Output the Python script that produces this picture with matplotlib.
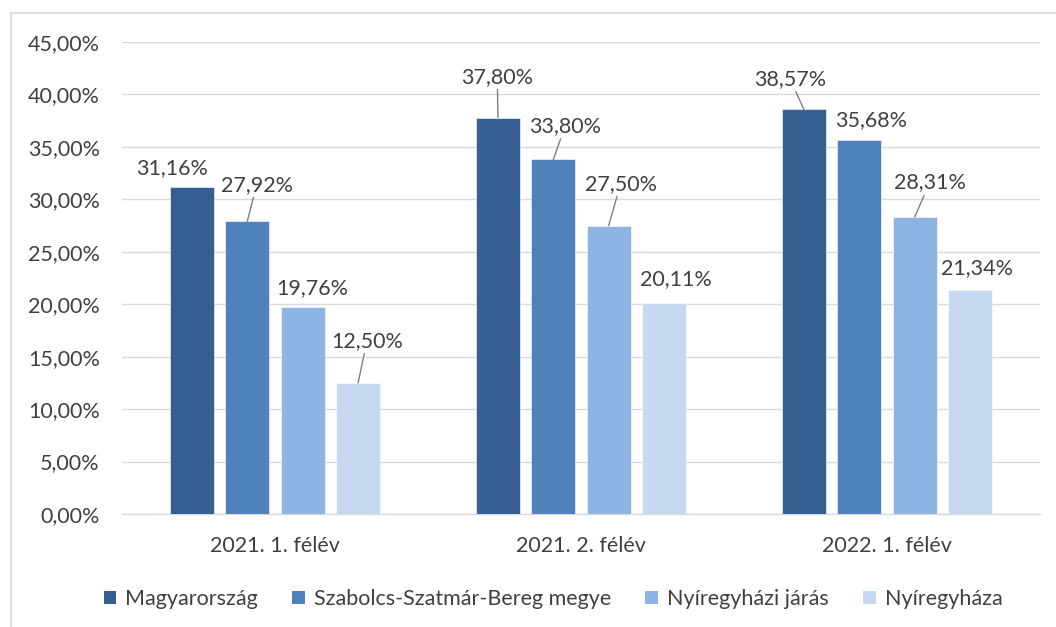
import matplotlib
matplotlib.use("Agg")
import matplotlib.pyplot as plt
from matplotlib.lines import Line2D
from matplotlib.patches import Patch
import numpy as np

plt.rcParams['font.family'] = ['Lato', 'DejaVu Sans']

categories = ["2021. 1. félév", "2021. 2. félév", "2022. 1. félév"]
series_names = ["Magyarország", "Szabolcs-Szatmár-Bereg megye", "Nyíregyházi járás", "Nyíregyháza"]
magyarorszag = [31.16, 37.80, 38.57]
szabolcs = [27.92, 33.80, 35.68]
nyir_jaras = [19.76, 27.50, 28.31]
nyiregyhaza = [12.50, 20.11, 21.34]
series = [magyarorszag, szabolcs, nyir_jaras, nyiregyhaza]
colors = ["#365F91", "#4F81BD", "#8EB4E3", "#C6D9F1"]

# label placement (offset from bar centre in category units, label y in %) and leader flags
label_dx = [[-0.066, 0.031, 0.033, 0.029],
            [-0.002, 0.039, 0.039, 0.039],
            [-0.046, 0.039, 0.049, 0.023]]
label_y = [[33.0, 31.4, 21.5, 16.5],
           [41.7, 37.0, 31.5, 22.4],
           [41.5, 37.6, 31.6, 23.4]]
leader = [[False, True, False, True],
          [True, True, True, False],
          [True, False, True, False]]

W, H = 1056, 627
fig = plt.figure(figsize=(W / 100, H / 100), dpi=100)
ax = fig.add_axes([122 / W, 1 - 514 / H, (1040 - 122) / W, (514 - 42) / H])

text_color = "#404040"
grid_color = "#D9D9D9"
fs = 15.5

x = np.arange(len(categories))
step = 0.181
width = 0.144
for i, (vals, col) in enumerate(zip(series, colors)):
    xs = x + (i - 1.5) * step
    ax.bar(xs, vals, width=width, color=col, edgecolor="white", linewidth=0.4, zorder=3)
    for g in range(len(categories)):
        lx = xs[g] + label_dx[g][i]
        ly = label_y[g][i]
        txt = f"{vals[g]:.2f}%".replace(".", ",")
        if leader[g][i]:
            ax.annotate(txt, xy=(xs[g], vals[g]), xytext=(lx, ly), textcoords="data",
                        ha="center", va="center", fontsize=fs, color=text_color,
                        arrowprops=dict(arrowstyle="-", color="#7F7F7F", lw=1.0,
                                        shrinkA=0, shrinkB=0), zorder=4)
        else:
            ax.text(lx, ly, txt, ha="center", va="center", fontsize=fs, color=text_color, zorder=4)

ax.set_xlim(-0.5, 2.5)
ax.set_ylim(0, 45)
ax.set_yticks(np.arange(0, 46, 5))
ax.set_yticklabels([f"{v:.2f}%".replace(".", ",") for v in np.arange(0, 46, 5)])
ax.set_xticks(x)
ax.set_xticklabels(categories)
ax.tick_params(axis="both", length=0, labelsize=fs, labelcolor=text_color)
ax.tick_params(axis="y", pad=16)
ax.tick_params(axis="x", pad=16)
ax.yaxis.grid(True, color=grid_color, linewidth=1.0, zorder=0)
ax.set_axisbelow(True)
for s in ["left", "right", "top"]:
    ax.spines[s].set_visible(False)
ax.spines["bottom"].set_color(grid_color)
ax.spines["bottom"].set_linewidth(1.0)

handles = [Patch(facecolor=c, edgecolor="none") for c in colors]
fig.legend(handles, series_names, loc="center", bbox_to_anchor=(553 / W, 1 - 599 / H),
           ncol=4, frameon=False, fontsize=fs, labelcolor=text_color,
           handlelength=0.6, handleheight=0.6, handletextpad=0.4, columnspacing=1.6)

# chart frame (top and left edges visible)
fig.add_artist(Line2D([10.5 / W, 1.0], [1 - 13 / H, 1 - 13 / H], color=grid_color, lw=1.2,
                      transform=fig.transFigure))
fig.add_artist(Line2D([10.5 / W, 10.5 / W], [0, 1 - 13 / H], color=grid_color, lw=1.2,
                      transform=fig.transFigure))

fig.savefig("out.png", dpi=100, facecolor="white")
